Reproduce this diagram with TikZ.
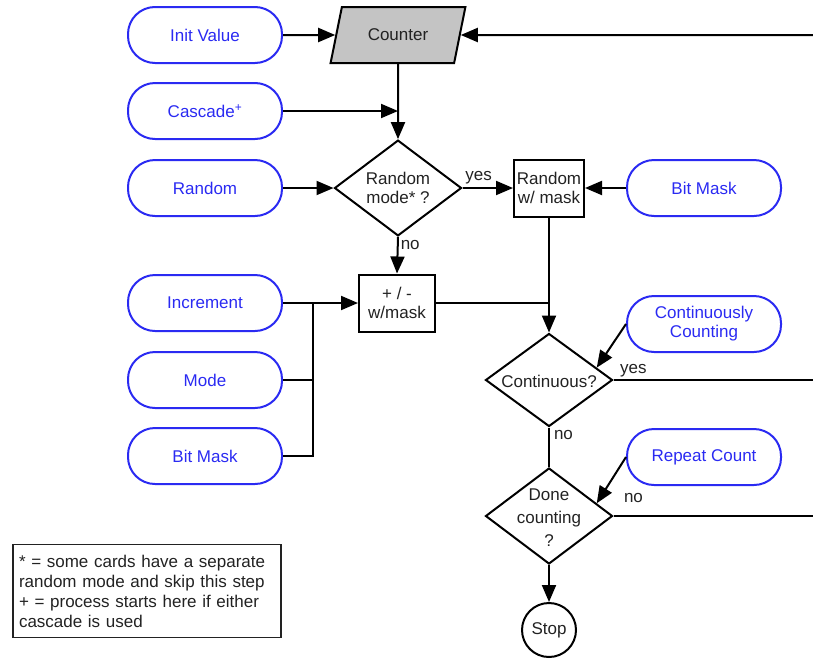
\documentclass[tikz,border=0pt]{standalone}
\usepackage{fontspec}
\setmainfont{Liberation Sans}
\usepackage{tikz}
\usetikzlibrary{arrows.meta,positioning,shapes.geometric,calc}
\usepackage{xcolor}
\definecolor{srcblue}{HTML}{2A2AF2}
\definecolor{ink}{HTML}{222222}
\definecolor{ctrfill}{HTML}{C4C4C4}
\tikzset{
  base/.style={draw=black, line width=2pt, align=center, text=ink, inner sep=2pt,
    font=\fontsize{17}{19}\selectfont},
  term/.style={base, draw=srcblue, text=srcblue, rounded corners=27pt, minimum width=154pt, minimum height=56pt},
  proc/.style={base, minimum width=70pt, minimum height=57pt},
  dec/.style={base, diamond, minimum width=127pt, minimum height=94pt, inner sep=0pt},
  io/.style={base, trapezium, trapezium left angle=68, trapezium right angle=112, trapezium stretches=true,
    fill=ctrfill, minimum width=135pt, minimum height=56pt},
  note/.style={base, draw=ink, line width=1.4pt, align=left, inner xsep=6pt, inner ysep=10pt, text width=256pt,
    font=\fontsize{17}{20}\selectfont},
  lbl/.style={text=ink, font=\fontsize{17}{19}\selectfont, inner sep=0pt},
  arr/.style={-{Triangle[length=17pt,width=14pt]}, line width=2pt},
  ln/.style={line width=2pt},
}
% text that may stick out of its diamond
\newcommand{\wide}[1]{\smash{\makebox[0pt]{\raisebox{-0.42em}{\renewcommand{\arraystretch}{1.2}\begin{tabular}{@{}c@{}}#1\end{tabular}}}}}

\begin{document}
\begin{tikzpicture}[x=1pt,y=-1pt]
  \useasboundingbox (0,0) rectangle (813,659);
  % inputs on the left
  \node[term] (init) at (205,35) {Init Value};
  \node[term] (casc) at (205,111) {Cascade\textsuperscript{+}};
  \node[term] (rand) at (205,188) {Random};
  \node[term] (inc) at (205,303) {Increment};
  \node[term] (mode) at (205,380) {Mode};
  \node[term] (bm1) at (205,456) {Bit Mask};
  % main flow
  \node[io] (ctr) at (398,35) {Counter};
  \node[dec] (rmode) at (398,188) {Random\\mode* ?};
  \node[proc] (rwm) at (549,188) {Random\\w/ mask};
  \node[proc, minimum width=76pt] (pm) at (397,303) {+ / -\\w/mask};
  \node[dec, minimum height=93pt] (cont) at (549,380) {\wide{Continuous?}};
  \node[dec, minimum height=96pt] (done) at (549,516) {\wide{Done\\counting\\?}};
  \node[base, circle, minimum size=54pt, inner sep=0pt] (stop) at (549,630) {Stop};
  % inputs on the right
  \node[term] (bm2) at (704,188) {Bit Mask};
  \node[term] (ccnt) at (704,324) {Continuously\\Counting};
  \node[term] (rcnt) at (704,457) {Repeat Count};
  % footnote
  \node[note] (fn) at (147,591) {* = some cards have a separate\\random mode and skip this step\\+ = process starts here if either\\cascade is used};
  % loose ends at the right edge
  \coordinate (back) at (813,35);
  \coordinate (yesend) at (813,380);
  \coordinate (noend) at (813,516);
  \coordinate (jn) at (313,303);
  % connectors
  \draw[arr] (init) -- (ctr);
  \draw[arr] (back) -- (ctr.east);
  \draw[arr] (ctr.south) -- (rmode.north);
  \draw[arr] (casc.east) -- (casc.east -| ctr.south);
  \draw[arr] (rand) -- (rmode);
  \draw[arr] (rmode) -- node[lbl, above=3pt, pos=0.32] {yes} (rwm);
  \draw[arr] (bm2) -- (rwm);
  \draw[arr] (rmode.south) -- node[lbl, right=2pt, pos=0.22] {no} (pm.north);
  \draw[arr] (inc.east) -- (pm.west);
  \draw[ln] (mode.east) -| (jn);
  \draw[ln] (bm1.east) -| (jn);
  \draw[ln] (pm.east) -- (pm.east -| cont.north);
  \draw[arr] (rwm.south) -- (cont.north);
  \draw[arr] (ccnt.west) -- ($(cont.north)!0.74!(cont.east)$);
  \draw[ln] (cont.east) -- node[lbl, above=2pt, pos=0.1] {yes} (yesend);
  \draw[ln] (cont.south) -- node[lbl, right=4pt, pos=0.2] {no} (done.north);
  \draw[arr] (rcnt.west) -- ($(done.north)!0.74!(done.east)$);
  \draw[ln] (done.east) -- node[lbl, above=12pt, pos=0.1] {no} (noend);
  \draw[arr] (done.south) -- (stop.north);
\end{tikzpicture}
\end{document}
